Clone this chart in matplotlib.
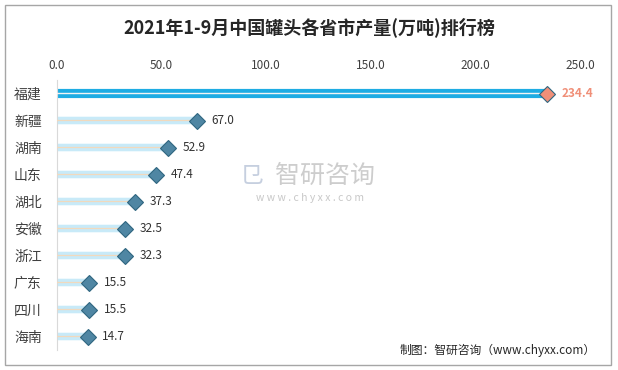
import matplotlib.pyplot as plt
from matplotlib.patches import Rectangle

plt.rcParams['font.family'] = ['Noto Sans CJK SC', 'DejaVu Sans']

provinces = ['福建', '新疆', '湖南', '山东', '湖北', '安徽', '浙江', '广东', '四川', '海南']
output = [234.4, 67.0, 52.9, 47.4, 37.3, 32.5, 32.3, 15.5, 15.5, 14.7]
ticks = [0, 50, 100, 150, 200, 250]

fig = plt.figure(figsize=(6.18, 3.70), dpi=100)
fig.patches.append(Rectangle((5 / 618, 5 / 370), 606 / 618, 360 / 370, transform=fig.transFigure,
                             fill=False, edgecolor='#a6a6a6', linewidth=1))
ax = fig.add_axes([57 / 618, 20 / 370, 523 / 618, 270 / 370])

ypos = list(range(len(provinces)))
for i, (name, v) in enumerate(zip(provinces, output)):
    if i == 0:
        ax.barh(i, v, height=0.34, color='#1eace3', zorder=2, snap=False)
        ax.hlines(i, 0, v, color='#f4f4f4', linewidth=1.0, zorder=3, snap=False)
        face, txt = '#f08f78', '#f08f78'
    else:
        ax.barh(i, v, height=0.28, color='#c8eaf8', zorder=2, snap=False)
        ax.hlines(i, 0, v, color='#f1d9bd', linewidth=0.9, zorder=3, snap=False)
        face, txt = '#4f86a3', '#333333'
    ax.plot(v, i, marker='D', markersize=8, markerfacecolor=face,
            markeredgecolor='#2f6680', markeredgewidth=0.8, zorder=4)
    ax.text(v + 7, i, f'{v:.1f}', va='center', ha='left', fontsize=8.5, color=txt,
            fontweight='bold' if i == 0 else 'normal')

ax.set_xlim(0, 250)
ax.set_ylim(len(provinces) - 0.5, -0.5)
ax.set_yticks(ypos)
ax.set_yticklabels(provinces, fontsize=10, color='#404040')
ax.set_xticks(ticks)
ax.set_xticklabels([f'{t:.1f}' for t in ticks], fontsize=8.5, color='#404040')
ax.xaxis.tick_top()
ax.tick_params(length=0, pad=6)
ax.tick_params(axis='y', pad=11)
for s in ['top', 'right', 'bottom']:
    ax.spines[s].set_visible(False)
ax.spines['left'].set_color('#d9d9d9')

fig.text(0.5, 1 - 27 / 370, '2021年1-9月中国罐头各省市产量(万吨)排行榜', ha='center', va='center',
         fontsize=13, fontweight='bold', color='#262626')

# watermark
fig.text(252 / 618, 1 - 177 / 370, '㔾', ha='center', va='center', fontsize=17,
         color='#b8c4d8', alpha=0.8)
fig.text(325 / 618, 1 - 176 / 370, '智研咨询', ha='center', va='center', fontsize=18,
         color='#c8c8c8', alpha=0.9)
fig.text(310 / 618, 1 - 198 / 370, 'w w w . c h y x x . c o m', ha='center', va='center', fontsize=7.5,
         color='#c8c8c8')

fig.text(498 / 618, 1 - 350 / 370, '制图：智研咨询（www.chyxx.com）', ha='center', va='center',
         fontsize=8.5, color='#262626')

fig.savefig('out.png', dpi=100)
